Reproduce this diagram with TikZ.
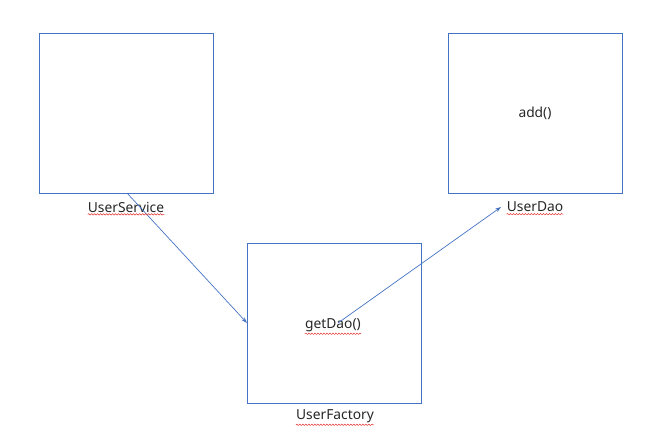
\documentclass[tikz,border=0pt]{standalone}
\usepackage{fontspec}
\setmainfont{Noto Sans}
\usetikzlibrary{decorations.pathmorphing,arrows.meta}
\definecolor{bl}{HTML}{4472C4}
\definecolor{sq}{HTML}{E83030}
\tikzset{
  box/.style={draw=bl, line width=0.8pt, minimum width=174pt, minimum height=160pt, inner sep=0pt},
  lbl/.style={font=\fontsize{13.8}{15}\selectfont, text=black!85, inner sep=1pt},
  conn/.style={draw=bl, line width=0.7pt, -{Stealth[length=6pt,width=4pt]}},
  squig/.style={draw=sq, line width=0.5pt, decorate, decoration={snake, amplitude=0.7pt, segment length=3pt}}
}
\begin{document}
\begin{tikzpicture}[x=1pt,y=-1pt]
\useasboundingbox (0,0) rectangle (672,432);
\node[box] (svc) at (126,113) {};
\node[box] (dao) at (535,113) {};
\node[box] (fac) at (334,323) {};
\node[lbl] (svclbl) at (126,207) {UserService};
\node[lbl] (daolbl) at (535,207) {UserDao};
\node[lbl] (faclbl) at (335,416) {UserFactory};
\node[lbl] (add) at (535,113) {add()};
\node[lbl] (get) at (333,325) {getDao()};
\coordinate (s1) at (127,193);
\coordinate (e1) at (247,323);
\coordinate (s2) at (338,323);
\coordinate (e2) at (501,207);
\draw[conn] (s1) -- (e1);
\draw[conn] (s2) -- (e2);
\draw[squig] ([xshift=1pt,yshift=-1pt]svclbl.south west) -- ([xshift=-1pt,yshift=-1pt]svclbl.south east);
\draw[squig] ([xshift=1pt,yshift=-1pt]daolbl.south west) -- ([xshift=-1pt,yshift=-1pt]daolbl.south east);
\draw[squig] ([xshift=1pt,yshift=-1pt]faclbl.south west) -- ([xshift=-1pt,yshift=-1pt]faclbl.south east);
\draw[squig] ([xshift=1pt,yshift=-1pt]get.south west) -- ([xshift=-1pt,yshift=-1pt]get.south east);
\end{tikzpicture}
\end{document}
